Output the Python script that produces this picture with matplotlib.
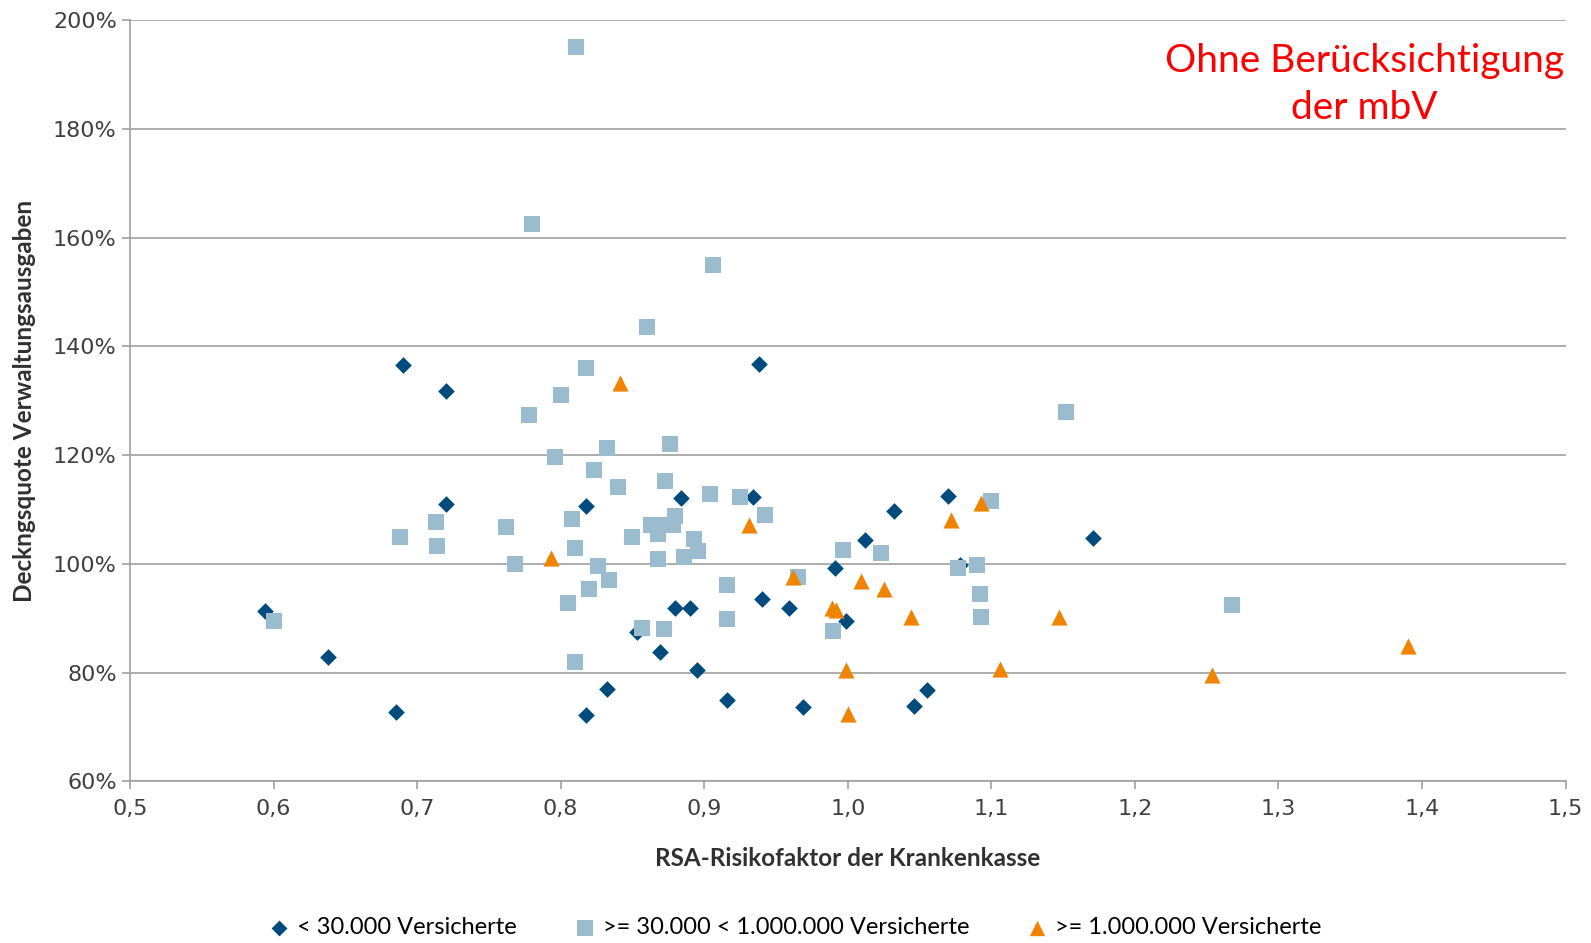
import numpy as np
from matplotlib import pyplot as plt
from matplotlib.ticker import FuncFormatter

# < 30.000 Versicherte
klein_x = [0.594, 0.638, 0.685, 0.690, 0.720, 0.720, 0.818, 0.818, 0.832, 0.853,
           0.869, 0.880, 0.884, 0.890, 0.895, 0.916, 0.934, 0.938, 0.940, 0.959,
           0.969, 0.991, 0.999, 1.012, 1.032, 1.046, 1.055, 1.070, 1.078, 1.171]
klein_y = [91.3, 82.8, 72.7, 136.5, 131.8, 111.0, 110.7, 72.2, 77.0, 87.5,
           83.7, 91.8, 112.2, 91.8, 80.5, 75.0, 112.3, 136.8, 93.5, 91.8,
           73.7, 99.2, 89.5, 104.3, 109.8, 73.8, 76.7, 112.5, 99.8, 104.8]

# >= 30.000 < 1.000.000 Versicherte
mittel_x = [0.600, 0.688, 0.713, 0.714, 0.762, 0.768, 0.778, 0.780, 0.796, 0.800,
            0.805, 0.808, 0.810, 0.810, 0.811, 0.818, 0.820, 0.823, 0.826, 0.832,
            0.834, 0.840, 0.850, 0.857, 0.860, 0.863, 0.868, 0.868, 0.870, 0.872,
            0.873, 0.876, 0.878, 0.880, 0.886, 0.893, 0.896, 0.904, 0.906, 0.916,
            0.916, 0.925, 0.942, 0.965, 0.990, 0.997, 1.023, 1.077, 1.090, 1.092,
            1.093, 1.100, 1.152, 1.268]
mittel_y = [89.5, 105.0, 107.7, 103.2, 106.8, 100.0, 127.3, 162.5, 119.6, 131.0,
            92.8, 108.2, 103.0, 82.0, 195.0, 136.1, 95.3, 117.2, 99.6, 121.4,
            97.0, 114.2, 104.9, 88.2, 143.5, 107.2, 105.5, 100.8, 107.2, 88.0,
            115.2, 122.0, 107.2, 108.8, 101.3, 104.5, 102.3, 112.8, 155.0, 96.2,
            89.8, 112.3, 109.0, 97.6, 87.6, 102.5, 102.0, 99.2, 99.7, 94.5,
            90.2, 111.6, 128.0, 92.5]

# >= 1.000.000 Versicherte
gross_x = [0.793, 0.841, 0.931, 0.962, 0.989, 0.992, 0.999, 1.000, 1.009, 1.025,
           1.044, 1.072, 1.093, 1.106, 1.147, 1.254, 1.390]
gross_y = [101.0, 133.2, 107.2, 97.5, 91.8, 91.6, 80.5, 72.3, 96.8, 95.3,
           90.2, 108.0, 111.2, 80.7, 90.3, 79.5, 84.8]

labels = ['< 30.000 Versicherte', '>= 30.000 < 1.000.000 Versicherte', '>= 1.000.000 Versicherte']

fig = plt.figure(figsize=(15.91, 9.43), dpi=100)
ax = fig.add_axes([0.0817, 0.1715, 0.9023, 0.807])

ax.scatter(klein_x, klein_y, marker='D', s=72, color='#004b7d', linewidths=0, label=labels[0], zorder=3)
ax.scatter(mittel_x, mittel_y, marker='s', s=135, color='#9bbbcf', linewidths=0, label=labels[1], zorder=4)
ax.scatter(gross_x, gross_y, marker='^', s=135, color='#f08300', linewidths=0, label=labels[2], zorder=5)

ax.set_xlim(0.5, 1.5)
ax.set_ylim(60, 200)
ax.set_xticks(np.arange(0.5, 1.51, 0.1))
ax.set_yticks(np.arange(60, 201, 20))
ax.xaxis.set_major_formatter(FuncFormatter(lambda v, p: ('%.1f' % v).replace('.', ',')))
ax.yaxis.set_major_formatter(FuncFormatter(lambda v, p: '%d%%' % round(v)))

ax.grid(axis='y', color='#a0a0a0', lw=1.2, zorder=0)
for s in ['top', 'right']:
    ax.spines[s].set_visible(False)
for s in ['left', 'bottom']:
    ax.spines[s].set_color('#a0a0a0')
    ax.spines[s].set_linewidth(1.2)
ax.tick_params(colors='#a0a0a0', labelcolor='#404040', length=6, width=1.2, labelsize=16)
ax.tick_params(axis='x', pad=7)

ax.set_xlabel('RSA-Risikofaktor der Krankenkasse', fontsize=17.5, fontweight='bold',
              family=['Lato', 'DejaVu Sans'], color='#303030', labelpad=20)
ax.set_ylabel('Deckngsquote Verwaltungsausgaben', fontsize=17.5, fontweight='bold',
              family=['Lato', 'DejaVu Sans'], color='#303030', labelpad=12)

ax.text(0.86, 0.915, 'Ohne Berücksichtigung\nder mbV', transform=ax.transAxes, ha='center', va='center',
        color='#ff0000', fontsize=28, family=['Lato', 'DejaVu Sans'], linespacing=1.38)

fig.legend(loc='center', bbox_to_anchor=(0.5, 0.016), ncol=3, frameon=False,
           prop={'family': ['Lato', 'DejaVu Sans'], 'size': 17}, handlelength=0.8,
           handletextpad=0.35, columnspacing=2.5, markerscale=0.95)

fig.savefig('out.png', dpi=100)
